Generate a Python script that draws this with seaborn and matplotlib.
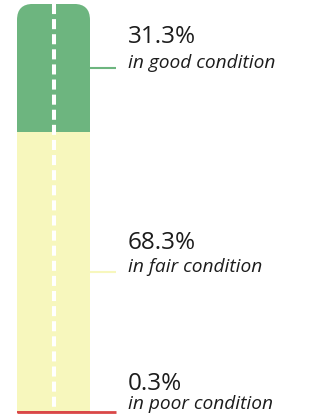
import matplotlib
matplotlib.use("Agg")
import matplotlib.pyplot as plt
from matplotlib.patches import FancyBboxPatch
import numpy as np
import seaborn as sns

# --- data ---
conditions = ["good", "fair", "poor"]
shares = [31.3, 68.3, 0.3]
pct_labels = ["31.3%", "68.3%", "0.3%"]
sub_labels = ["in good condition", "in fair condition", "in poor condition"]
colors = ["#6db57f", "#f7f7bd", "#d94848"]

# --- layout (pixels) ---
W, H, DPI = 310, 417, 100
px_per_pct = 4.09
bar_left_px = 17
bar_w_px = 73
y0 = -1.10
x_per_px = 0.8 / bar_w_px
x0 = -0.4 - bar_left_px * x_per_px

def px_x(p):
    return x0 + p * x_per_px

sns.set_theme(style="white")
plt.rcParams['font.family'] = ['Open Sans', 'DejaVu Sans']

fig = plt.figure(figsize=(W / DPI, H / DPI), dpi=DPI)
ax = fig.add_axes([0, 0, 1, 1])

# stacked bar: draw cumulative totals, tallest first
tops = np.cumsum(shares[::-1])[::-1]          # good, fair, poor tops
bottoms = tops - np.array(shares)
for top, c in zip(tops, colors):
    sns.barplot(x=["road"], y=[top], color=c, saturation=1, width=0.8,
                ax=ax, linewidth=0)

# seaborn resets the limits for a categorical axis, so set them afterwards
ax.set_xlim(x0, x0 + W * x_per_px)
ax.set_ylim(y0, y0 + H / px_per_pct)

# rounded top for the road
r_px = 16
clip = FancyBboxPatch((-0.4, -10), 0.8, tops[0] + 10,
                      boxstyle=f"round,pad=0,rounding_size={r_px * x_per_px}",
                      mutation_aspect=(r_px / px_per_pct) / (r_px * x_per_px),
                      transform=ax.transData, facecolor="none", edgecolor="none")
for p in ax.patches:
    p.set_clip_path(clip)

# centre dashes
ax.plot([0, 0], [tops[0], bottoms[-1] + shares[-1] * 0.5 + 0.3], color="white",
        lw=2.9, dashes=(2.5, 1.25), solid_capstyle="butt", zorder=3)

# leaders and labels
leader_end = px_x(116)
text_x = px_x(128)
sub_off = [0, 0, 3]       # px the italic baseline sits above the leader
pct_gap = [25, 23, 19]    # px from italic baseline to number baseline
for i, (s, b) in enumerate(zip(shares, bottoms)):
    ymid = b + s / 2
    start = -0.4 if s < 1 else 0.4
    ax.plot([start, leader_end], [ymid, ymid], color=colors[i],
            lw=1.5 if s >= 1 else 2.0, solid_capstyle="butt", zorder=4)
    ax.annotate(sub_labels[i], (text_x, ymid), xytext=(0, sub_off[i]),
                textcoords="offset pixels", va="baseline", ha="left",
                fontsize=13.8, style="italic", color="#1c1c1c")
    ax.annotate(pct_labels[i], (text_x, ymid), xytext=(0, sub_off[i] + pct_gap[i]),
                textcoords="offset pixels", va="baseline", ha="left",
                fontsize=17.5, color="#1c1c1c")

ax.set_axis_off()
fig.savefig("out.png", dpi=DPI)
